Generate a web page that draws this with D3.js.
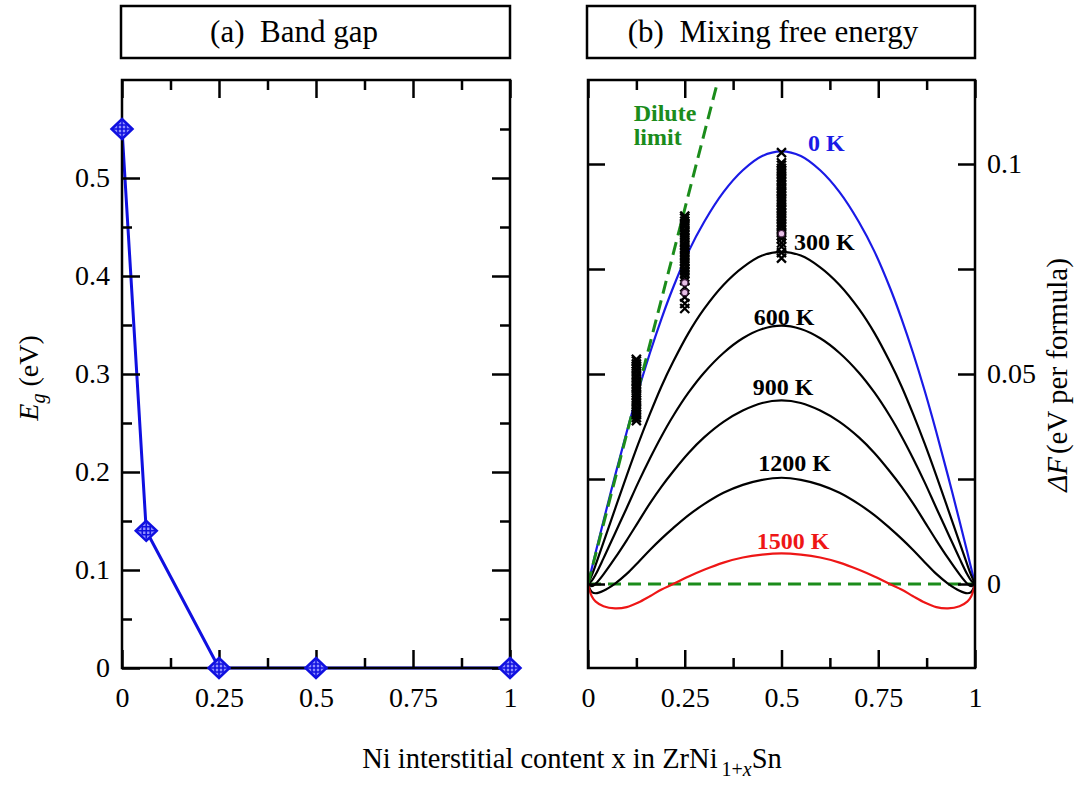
<!DOCTYPE html>
<html>
<head>
<meta charset="utf-8">
<script src="https://cdn.jsdelivr.net/npm/d3@7"></script>
<style>
  body { margin: 0; background: #fff; }
  text { font-family: "Liberation Serif", "Times New Roman", serif; }
</style>
</head>
<body>
<svg id="chart" width="1082" height="791"></svg>
<script>
// ---------- data : panel (a) band gap ----------
const gap_x = [0, 0.0625, 0.25, 0.5, 1];
const gap_eg = [0.55, 0.14, 0, 0, 0];
const gap_y_major = [0, 0.1, 0.2, 0.3, 0.4, 0.5];
const gap_y_labels = ["0", "0.1", "0.2", "0.3", "0.4", "0.5"];
const gap_y_minor = [0.05, 0.15, 0.25, 0.35, 0.45, 0.55];

// ---------- data : panel (b) mixing free energy ----------
const x_major = [0, 0.25, 0.5, 0.75, 1];
const x_labels = ["0", "0.25", "0.5", "0.75", "1"];
const x_minor = [0.125, 0.375, 0.625, 0.875];
const mix_y_major = [0, 0.05, 0.1];
const mix_y_labels = ["0", "0.05", "0.1"];
const mix_y_minor = [0.025, 0.075];

const mix_x = [0, 0.01, 0.02, 0.04, 0.07, 0.1, 0.13, 0.16, 0.19, 0.22, 0.26, 0.3, 0.35, 0.4, 0.45, 0.5,
               0.55, 0.6, 0.65, 0.7, 0.74, 0.78, 0.81, 0.84, 0.87, 0.9, 0.93, 0.96, 0.98, 0.99, 1];
const mix_0K = [0, 0.0038, 0.0076, 0.0150, 0.0258, 0.0362, 0.0460, 0.0550, 0.0632, 0.0706, 0.0792, 0.0862, 0.0933, 0.0985, 0.1019, 0.1030,
                0.1019, 0.0985, 0.0933, 0.0862, 0.0792, 0.0706, 0.0632, 0.0550, 0.0460, 0.0362, 0.0258, 0.0150, 0.0076, 0.0038, 0];
const mix_300K = [0, 0.0021, 0.0046, 0.0099, 0.0179, 0.0258, 0.0334, 0.0405, 0.0471, 0.0529, 0.0598, 0.0655, 0.0712, 0.0754, 0.0782, 0.0791,
                  0.0782, 0.0754, 0.0712, 0.0655, 0.0598, 0.0529, 0.0471, 0.0405, 0.0334, 0.0258, 0.0179, 0.0099, 0.0046, 0.0021, 0];
const mix_600K = [0, 0.0008, 0.0023, 0.0061, 0.0121, 0.0181, 0.0242, 0.0299, 0.0352, 0.0400, 0.0456, 0.0503, 0.0550, 0.0585, 0.0607, 0.0615,
                  0.0607, 0.0585, 0.0550, 0.0503, 0.0456, 0.0400, 0.0352, 0.0299, 0.0242, 0.0181, 0.0121, 0.0061, 0.0023, 0.0008, 0];
const mix_900K = [0, -0.0005, 0.0001, 0.0023, 0.0062, 0.0104, 0.0148, 0.0192, 0.0232, 0.0268, 0.0312, 0.0349, 0.0386, 0.0413, 0.0431, 0.0437,
                  0.0431, 0.0413, 0.0386, 0.0349, 0.0312, 0.0268, 0.0232, 0.0192, 0.0148, 0.0104, 0.0062, 0.0023, 0.0001, -0.0005, 0];
const mix_1200K = [0, -0.0019, -0.0022, -0.0016, 0.0001, 0.0024, 0.0052, 0.0081, 0.0108, 0.0133, 0.0164, 0.0190, 0.0217, 0.0236, 0.0248, 0.0253,
                   0.0248, 0.0236, 0.0217, 0.0190, 0.0164, 0.0133, 0.0108, 0.0081, 0.0052, 0.0024, 0.0001, -0.0016, -0.0022, -0.0019, 0];
const mix_1500K = [0, -0.0030, -0.0042, -0.0053, -0.0058, -0.0055, -0.0044, -0.0029, -0.0013, 0, 0.0018, 0.0034, 0.0051, 0.0063, 0.0070, 0.0073,
                   0.0070, 0.0063, 0.0051, 0.0034, 0.0018, 0, -0.0013, -0.0029, -0.0044, -0.0055, -0.0058, -0.0053, -0.0042, -0.0030, 0];
const mix_temps = ["0 K", "300 K", "600 K", "900 K", "1200 K", "1500 K"];

// dilute limit line and the zero reference
const dilute_x = [0, 0.336];
const dilute_y = [0, 0.12];
const zero_x = [0, 1];
const zero_y = [0, 0];

// sampled configurations (crosses) at x = 1/8, 1/4, 1/2
const sample_0125 = [0.0535, 0.0531, 0.0524, 0.0519, 0.0512, 0.0506, 0.0498, 0.0491, 0.0484, 0.0477, 0.0470, 0.0464,
                     0.0456, 0.0450, 0.0443, 0.0437, 0.0430, 0.0422, 0.0416, 0.0409, 0.0403, 0.0396, 0.0389];
const sample_025 = [0.0876, 0.0871, 0.0864, 0.0857, 0.0851, 0.0843, 0.0837, 0.0830, 0.0823, 0.0815, 0.0808, 0.0801,
                    0.0795, 0.0788, 0.0781, 0.0774, 0.0767, 0.0760, 0.0752, 0.0745, 0.0738, 0.0731, 0.0722, 0.0707,
                    0.0683, 0.0668, 0.0656];
const sample_05 = [0.1027, 0.1003, 0.0997, 0.0990, 0.0984, 0.0977, 0.0970, 0.0963, 0.0957, 0.0950, 0.0943, 0.0936,
                   0.0930, 0.0923, 0.0916, 0.0910, 0.0903, 0.0896, 0.0890, 0.0883, 0.0876, 0.0870, 0.0863, 0.0856,
                   0.0850, 0.0843, 0.0836, 0.0829, 0.0822, 0.0812, 0.0803, 0.0789, 0.0776];
const sample_circle_x = [0.25, 0.25, 0.5];
const sample_circle_y = [0.0717, 0.0694, 0.0834];

// ---------- layout ----------
const svg = d3.select("#chart");
const plot_top = 80, plot_bottom = 668;
const font = "'Liberation Serif', 'Times New Roman', serif";

const gap_x_scale = d3.scaleLinear().domain([0, 1]).range([122, 510]);
const gap_y_scale = d3.scaleLinear().domain([0, 0.6]).range([plot_bottom, plot_top]);
const mix_x_scale = d3.scaleLinear().domain([0, 1]).range([588, 975]);
const mix_y_scale = d3.scaleLinear().domain([-0.02, 0.12]).range([plot_bottom, plot_top]);

// Helper to add one set of inward ticks (with or without labels)
function add_ticks(axis, transform, values, size, labels, padding) {
    const g = svg.append("g")
        .attr("transform", transform)
        .call(axis.tickValues(values)
            .tickSize(-size)
            .tickPadding(padding || 12)
            .tickFormat((d, i) => labels ? labels[i] : ""));
    g.select(".domain").remove();
    g.selectAll("line").attr("stroke", "#000").attr("stroke-width", 2.5);
    g.attr("font-family", font).attr("font-size", 28);
    g.selectAll("text").attr("fill", "#000");
    return g;
}

// Helper to draw a panel frame and its title box
function add_frame(x_scale, title, title_x) {
    const [x0, x1] = x_scale.range();
    svg.append("rect")
        .attr("x", x0).attr("y", plot_top)
        .attr("width", x1 - x0).attr("height", plot_bottom - plot_top)
        .attr("fill", "none").attr("stroke", "#000").attr("stroke-width", 2.5);
    svg.append("rect")
        .attr("x", x0 - 1).attr("y", 6)
        .attr("width", x1 - x0 + 1).attr("height", 52)
        .attr("fill", "none").attr("stroke", "#000").attr("stroke-width", 2.5);
    svg.append("text")
        .attr("x", title_x).attr("y", 42)
        .attr("text-anchor", "middle")
        .attr("font-size", 31)
        .text(title);
}

// ---------- panel (a) ----------
const gap_points = gap_x.map((x, i) => ({ x: x, y: gap_eg[i] }));

svg.append("path")
    .datum(gap_points)
    .attr("fill", "none")
    .attr("stroke", "#1010e0")
    .attr("stroke-width", 3)
    .attr("d", d3.line().x(d => gap_x_scale(d.x)).y(d => gap_y_scale(d.y)));

add_frame(gap_x_scale, "(a)\u00a0\u00a0Band gap", 294);
add_ticks(d3.axisBottom(gap_x_scale), `translate(0,${plot_bottom})`, x_major, 18, x_labels, 19);
add_ticks(d3.axisBottom(gap_x_scale), `translate(0,${plot_bottom})`, x_minor, 10, null);
add_ticks(d3.axisTop(gap_x_scale), `translate(0,${plot_top})`, x_major, 18, null);
add_ticks(d3.axisTop(gap_x_scale), `translate(0,${plot_top})`, x_minor, 10, null);
add_ticks(d3.axisLeft(gap_y_scale), `translate(122,0)`, gap_y_major, 18, gap_y_labels, 12);
add_ticks(d3.axisLeft(gap_y_scale), `translate(122,0)`, gap_y_minor, 10, null);
add_ticks(d3.axisRight(gap_y_scale), `translate(510,0)`, gap_y_major, 18, null);
add_ticks(d3.axisRight(gap_y_scale), `translate(510,0)`, gap_y_minor, 10, null);

// Diamond markers with a hatched core
const gap_markers = svg.selectAll(".gap-marker")
    .data(gap_points)
    .enter()
    .append("g")
    .attr("class", "gap-marker")
    .attr("transform", d => `translate(${gap_x_scale(d.x)},${gap_y_scale(d.y)})`);
gap_markers.append("path")
    .attr("d", "M0,-10L10.5,0L0,10L-10.5,0Z")
    .attr("fill", "#9090ff")
    .attr("stroke", "#1010e0")
    .attr("stroke-width", 2.5);
gap_markers.append("path")
    .attr("d", "M-9,0H9M0,-8V8M-4,-4H4V4H-4Z")
    .attr("fill", "none")
    .attr("stroke", "#1010e0")
    .attr("stroke-width", 1.6);

// Left axis title
svg.append("text")
    .attr("transform", "translate(38,378) rotate(-90)")
    .attr("text-anchor", "middle")
    .attr("font-size", 28)
    .call(t => {
        t.append("tspan").attr("font-style", "italic").text("E");
        t.append("tspan").attr("font-size", 20).attr("font-style", "italic").attr("dy", 7).text("g");
        t.append("tspan").attr("dy", -7).text(" (eV)");
    });

// ---------- panel (b) ----------
svg.append("clipPath").attr("id", "mix-clip")
    .append("rect")
    .attr("x", 588).attr("y", plot_top)
    .attr("width", 975 - 588).attr("height", plot_bottom - plot_top);

const mix_layer = svg.append("g").attr("clip-path", "url(#mix-clip)");

const mix_line = d3.line()
    .x(d => mix_x_scale(d.x))
    .y(d => mix_y_scale(d.y))
    .curve(d3.curveCatmullRom.alpha(0.5));

// Dashed zero line and dilute limit
mix_layer.append("path")
    .datum(zero_x.map((x, i) => ({ x: x, y: zero_y[i] })))
    .attr("fill", "none").attr("stroke", "#1b8c1b").attr("stroke-width", 3)
    .attr("stroke-dasharray", "13,7")
    .attr("d", d3.line().x(d => mix_x_scale(d.x)).y(d => mix_y_scale(d.y)));

const mix_series = [mix_0K, mix_300K, mix_600K, mix_900K, mix_1200K, mix_1500K];
const mix_colors = ["#1a1ae6", "#000", "#000", "#000", "#000", "#ee1616"];

mix_layer.selectAll(".mix-curve")
    .data(mix_series)
    .enter()
    .append("path")
    .attr("class", "mix-curve")
    .attr("fill", "none")
    .attr("stroke", (d, i) => mix_colors[i])
    .attr("stroke-width", 2.2)
    .attr("d", s => mix_line(mix_x.map((x, i) => ({ x: x, y: s[i] }))));

mix_layer.append("path")
    .datum(dilute_x.map((x, i) => ({ x: x, y: dilute_y[i] })))
    .attr("fill", "none").attr("stroke", "#1b8c1b").attr("stroke-width", 3)
    .attr("stroke-dasharray", "13,7")
    .attr("d", d3.line().x(d => mix_x_scale(d.x)).y(d => mix_y_scale(d.y)));

add_frame(mix_x_scale, "(b)\u00a0\u00a0Mixing free energy", 773);
add_ticks(d3.axisBottom(mix_x_scale), `translate(0,${plot_bottom})`, x_major, 18, x_labels, 19);
add_ticks(d3.axisBottom(mix_x_scale), `translate(0,${plot_bottom})`, x_minor, 10, null);
add_ticks(d3.axisTop(mix_x_scale), `translate(0,${plot_top})`, x_major, 18, null);
add_ticks(d3.axisTop(mix_x_scale), `translate(0,${plot_top})`, x_minor, 10, null);
add_ticks(d3.axisLeft(mix_y_scale), `translate(588,0)`, mix_y_major.concat(mix_y_minor), 17, null);
add_ticks(d3.axisRight(mix_y_scale), `translate(975,0)`, mix_y_major, 17, mix_y_labels, 12);
add_ticks(d3.axisRight(mix_y_scale), `translate(975,0)`, mix_y_minor, 17, null);

// Sampled configurations as crosses
const samples = [].concat(
    sample_0125.map(v => ({ x: 0.125, y: v })),
    sample_025.map(v => ({ x: 0.25, y: v })),
    sample_05.map(v => ({ x: 0.5, y: v }))
);
svg.selectAll(".sample")
    .data(samples)
    .enter()
    .append("path")
    .attr("class", "sample")
    .attr("transform", d => `translate(${mix_x_scale(d.x)},${mix_y_scale(d.y)})`)
    .attr("d", "M-4.5,-4.5L4.5,4.5M-4.5,4.5L4.5,-4.5")
    .attr("stroke", "#000")
    .attr("stroke-width", 2.3);
svg.selectAll(".sample-circle")
    .data(sample_circle_x.map((x, i) => ({ x: x, y: sample_circle_y[i] })))
    .enter()
    .append("circle")
    .attr("class", "sample-circle")
    .attr("cx", d => mix_x_scale(d.x))
    .attr("cy", d => mix_y_scale(d.y))
    .attr("r", 3.2)
    .attr("fill", "#e6c0e6")
    .attr("stroke", "#402040")
    .attr("stroke-width", 1.2);

// Curve labels (positions in data units)
const label_x = [0.616, 0.611, 0.507, 0.504, 0.534, 0.530];
const label_y = [0.1030, 0.0795, 0.0617, 0.0450, 0.0270, 0.0083];
svg.selectAll(".temp-label")
    .data(mix_temps)
    .enter()
    .append("text")
    .attr("class", "temp-label")
    .attr("x", (d, i) => mix_x_scale(label_x[i]))
    .attr("y", (d, i) => mix_y_scale(label_y[i]))
    .attr("text-anchor", "middle")
    .attr("font-size", 24)
    .attr("font-weight", "bold")
    .attr("fill", (d, i) => i === 0 ? "#1a1ae6" : i === 5 ? "#ee1616" : "#000")
    .text(d => d);

svg.append("text")
    .attr("x", mix_x_scale(0.118)).attr("y", 121)
    .attr("font-size", 24).attr("font-weight", "bold").attr("fill", "#1b8c1b")
    .text("Dilute");
svg.append("text")
    .attr("x", mix_x_scale(0.118)).attr("y", 145)
    .attr("font-size", 24).attr("font-weight", "bold").attr("fill", "#1b8c1b")
    .text("limit");

// Right axis title
svg.append("text")
    .attr("transform", "translate(1067,375) rotate(-90)")
    .attr("text-anchor", "middle")
    .attr("font-size", 29)
    .call(t => {
        t.append("tspan").attr("font-style", "italic").text("ΔF");
        t.append("tspan").attr("dx", 3).text("(eV per formula)");
    });

// Shared x axis title
svg.append("text")
    .attr("x", 572).attr("y", 768)
    .attr("text-anchor", "middle")
    .attr("font-size", 28.5)
    .call(t => {
        t.append("tspan").text("Ni interstitial content x in ZrNi");
        t.append("tspan").attr("font-size", 20).attr("dx", 4).attr("dy", 8).text("1+");
        t.append("tspan").attr("font-size", 20).attr("font-style", "italic").text("x");
        t.append("tspan").attr("dy", -8).text("Sn");
    });
</script>
</body>
</html>
